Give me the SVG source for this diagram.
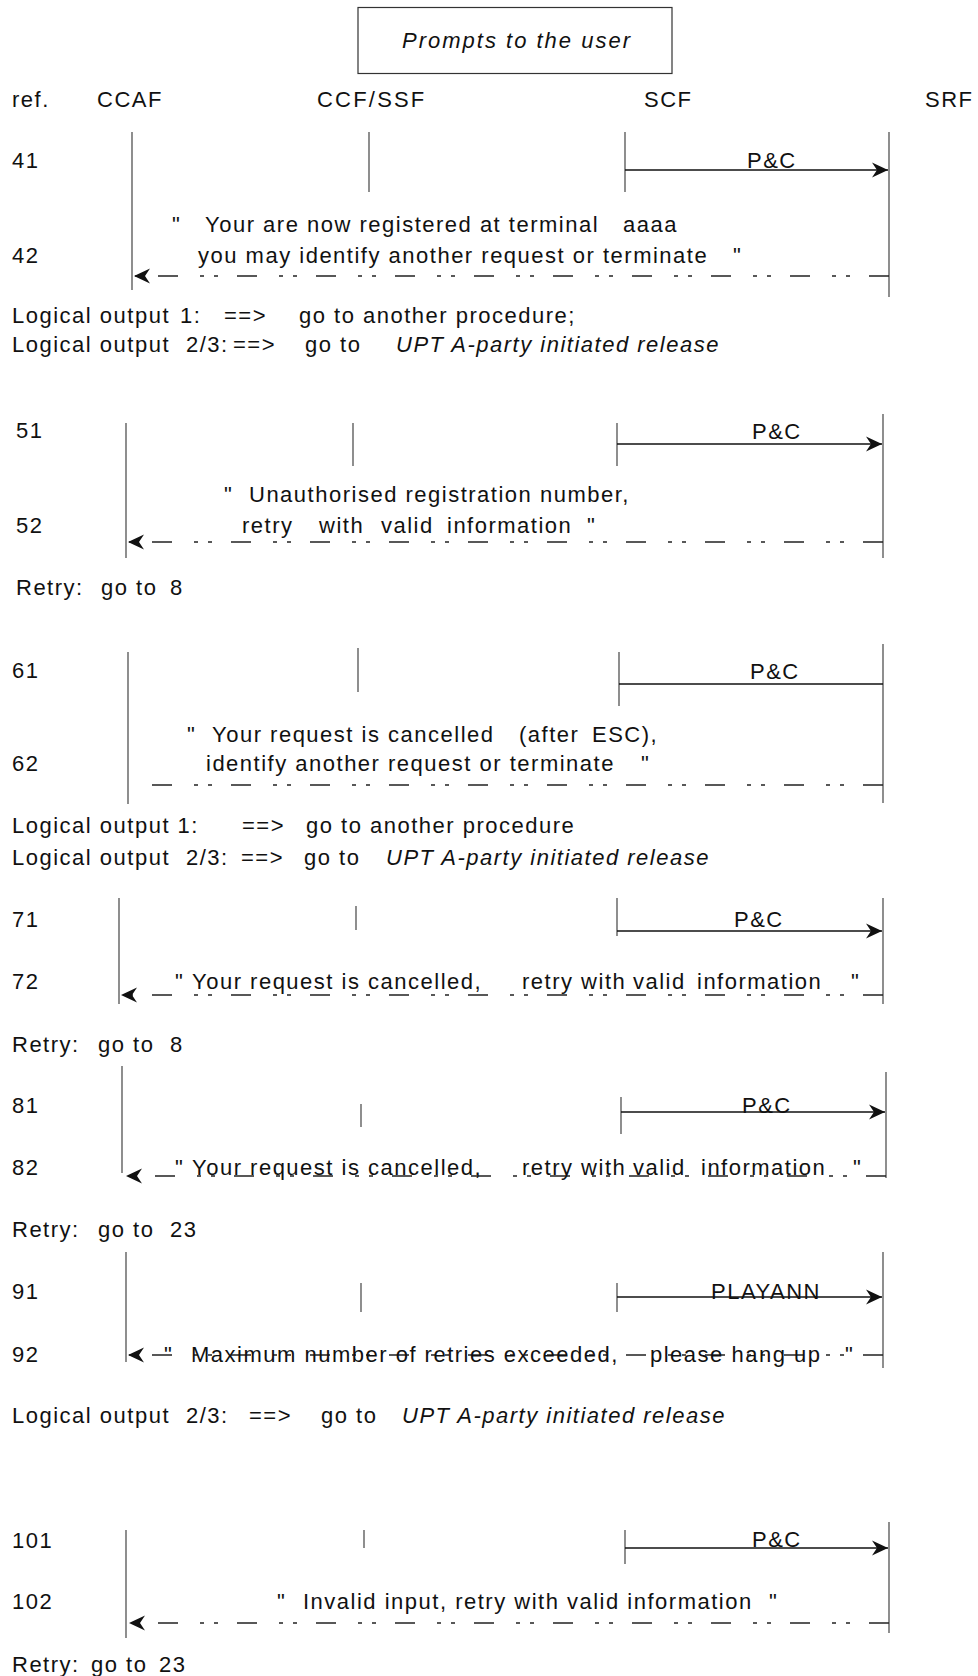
<svg xmlns="http://www.w3.org/2000/svg" width="978" height="1676" viewBox="0 0 978 1676">
<style>
text{font-family:"Liberation Sans",Arial,sans-serif;font-size:22px;fill:#111;letter-spacing:1.5px}
.it{font-style:italic}
.life{stroke:#444;stroke-width:1.2;fill:none}
.msg{stroke:#111;stroke-width:1.4;fill:none}
.dash{stroke:#222;stroke-width:1.4;fill:none;stroke-dasharray:20 19 4 10 4 22}
</style>
<defs>
<marker id="ah" viewBox="-17 -8 18 16" refX="0" refY="0" markerWidth="18" markerHeight="16" markerUnits="userSpaceOnUse" orient="auto">
<path d="M0,0 L-16,-7.5 L-11,0 L-16,7.5 Z" fill="#111"/>
</marker>
</defs>
<rect width="978" height="1676" fill="#fff"/>

<g id="title">
<rect x="358" y="7.5" width="314" height="66" fill="#fff" stroke="#333" stroke-width="1.2"/>
<text class="it" x="402" y="48" style="letter-spacing:2px">Prompts to the user</text>
</g>

<g id="columns">
<text x="12" y="107">ref.</text>
<text x="97" y="107">CCAF</text>
<text x="317" y="107" style="letter-spacing:2.2px">CCF/SSF</text>
<text x="644" y="107">SCF</text>
<text x="925" y="107">SRF</text>
</g>

<g id="lifelines">
<line class="life" x1="132" y1="132" x2="132" y2="290"/>
<line class="life" x1="369" y1="132" x2="369" y2="192"/>
<line class="life" x1="625" y1="132" x2="625" y2="192"/>
<line class="life" x1="889" y1="132" x2="889" y2="297"/>

<line class="life" x1="126" y1="423" x2="126" y2="558"/>
<line class="life" x1="353" y1="423" x2="353" y2="466"/>
<line class="life" x1="617" y1="423" x2="617" y2="466"/>
<line class="life" x1="883" y1="414" x2="883" y2="558"/>

<line class="life" x1="128" y1="652" x2="128" y2="804"/>
<line class="life" x1="358" y1="648" x2="358" y2="692"/>
<line class="life" x1="619" y1="652" x2="619" y2="706"/>
<line class="life" x1="883" y1="644" x2="883" y2="803"/>

<line class="life" x1="119" y1="898" x2="119" y2="1004"/>
<line class="life" x1="356" y1="906" x2="356" y2="930"/>
<line class="life" x1="617" y1="898" x2="617" y2="936"/>
<line class="life" x1="883" y1="898" x2="883" y2="1004"/>

<line class="life" x1="122" y1="1066" x2="122" y2="1173"/>
<line class="life" x1="361" y1="1104" x2="361" y2="1127"/>
<line class="life" x1="621" y1="1097" x2="621" y2="1134"/>
<line class="life" x1="886" y1="1072" x2="886" y2="1178"/>

<line class="life" x1="126" y1="1252" x2="126" y2="1362"/>
<line class="life" x1="361" y1="1283" x2="361" y2="1312"/>
<line class="life" x1="617" y1="1283" x2="617" y2="1312"/>
<line class="life" x1="883" y1="1252" x2="883" y2="1368"/>

<line class="life" x1="126" y1="1530" x2="126" y2="1638"/>
<line class="life" x1="364" y1="1530" x2="364" y2="1548"/>
<line class="life" x1="625" y1="1530" x2="625" y2="1564"/>
<line class="life" x1="889" y1="1522" x2="889" y2="1633"/>
</g>

<g id="connectors">
<line class="msg" x1="625" y1="170" x2="888" y2="170" marker-end="url(#ah)"/>
<line class="dash" x1="889" y1="276" x2="134" y2="276" marker-end="url(#ah)"/>

<line class="msg" x1="617" y1="444" x2="882" y2="444" marker-end="url(#ah)"/>
<line class="dash" x1="883" y1="542" x2="128" y2="542" marker-end="url(#ah)"/>

<line class="msg" x1="619" y1="684" x2="883" y2="684"/>
<line class="dash" x1="883" y1="785" x2="145" y2="785"/>

<line class="msg" x1="617" y1="931" x2="882" y2="931" marker-end="url(#ah)"/>
<line class="dash" x1="883" y1="995" x2="121" y2="995" marker-end="url(#ah)"/>

<line class="msg" x1="621" y1="1112" x2="885" y2="1112" marker-end="url(#ah)"/>
<line class="dash" x1="886" y1="1176" x2="126" y2="1176" marker-end="url(#ah)"/>

<line class="msg" x1="617" y1="1297" x2="882" y2="1297" marker-end="url(#ah)"/>
<line class="dash" x1="883" y1="1355" x2="128" y2="1355" marker-end="url(#ah)"/>

<line class="msg" x1="625" y1="1548" x2="888" y2="1548" marker-end="url(#ah)"/>
<line class="dash" x1="889" y1="1623" x2="129" y2="1623" marker-end="url(#ah)"/>
</g>

<g id="step4">
<text x="12" y="168">41</text>
<text x="747" y="168">P&amp;C</text>
<text y="232"><tspan x="172">"</tspan><tspan x="205">Your are now registered at terminal</tspan><tspan x="623">aaaa</tspan></text>
<text x="12" y="263">42</text>
<text y="263"><tspan x="198">you may identify another request or terminate</tspan><tspan x="733">"</tspan></text>
<text y="323"><tspan x="12">Logical output</tspan><tspan x="180">1:</tspan><tspan x="224">==&gt;</tspan><tspan x="299">go to another procedure;</tspan></text>
<text y="352"><tspan x="12">Logical output</tspan><tspan x="186">2/3:</tspan><tspan x="233">==&gt;</tspan><tspan x="305">go to</tspan><tspan x="396" class="it">UPT A-party initiated release</tspan></text>
</g>

<g id="step5">
<text x="16" y="438">51</text>
<text x="752" y="439">P&amp;C</text>
<text y="502"><tspan x="224">"</tspan><tspan x="249">Unauthorised registration number,</tspan></text>
<text x="16" y="533">52</text>
<text y="533"><tspan x="242">retry</tspan><tspan x="319">with</tspan><tspan x="381">valid</tspan><tspan x="447">information</tspan><tspan x="587">"</tspan></text>
<text y="595"><tspan x="16">Retry:</tspan><tspan x="101">go to</tspan><tspan x="170">8</tspan></text>
</g>

<g id="step6">
<text x="12" y="678">61</text>
<text x="750" y="679">P&amp;C</text>
<text y="742"><tspan x="187">"</tspan><tspan x="212">Your request is cancelled</tspan><tspan x="519">(after</tspan><tspan x="592">ESC),</tspan></text>
<text x="12" y="771">62</text>
<text y="771"><tspan x="206">identify another request or terminate</tspan><tspan x="641">"</tspan></text>
<text y="833"><tspan x="12">Logical output 1:</tspan><tspan x="242">==&gt;</tspan><tspan x="306">go to another procedure</tspan></text>
<text y="865"><tspan x="12">Logical output</tspan><tspan x="186">2/3:</tspan><tspan x="241">==&gt;</tspan><tspan x="304">go to</tspan><tspan x="386" class="it">UPT A-party initiated release</tspan></text>
</g>

<g id="step7">
<text x="12" y="927">71</text>
<text x="734" y="927">P&amp;C</text>
<text x="12" y="989">72</text>
<text y="989"><tspan x="175">"</tspan><tspan x="192">Your request is cancelled,</tspan><tspan x="522">retry with</tspan><tspan x="633">valid</tspan><tspan x="697">information</tspan><tspan x="851">"</tspan></text>
<text y="1052"><tspan x="12">Retry:</tspan><tspan x="98">go to</tspan><tspan x="170">8</tspan></text>
</g>

<g id="step8">
<text x="12" y="1113">81</text>
<text x="742" y="1113">P&amp;C</text>
<text x="12" y="1175">82</text>
<text y="1175"><tspan x="175">"</tspan><tspan x="192">Your request is cancelled,</tspan><tspan x="522">retry with</tspan><tspan x="633">valid</tspan><tspan x="701">information</tspan><tspan x="853">"</tspan></text>
<text y="1237"><tspan x="12">Retry:</tspan><tspan x="98">go to</tspan><tspan x="170">23</tspan></text>
</g>

<g id="step9">
<text x="12" y="1299">91</text>
<text x="711" y="1299">PLAYANN</text>
<text x="12" y="1362">92</text>
<text y="1362"><tspan x="164">"</tspan><tspan x="191">Maximum number of retries exceeded,</tspan><tspan x="650">please hang up</tspan><tspan x="845">"</tspan></text>
<text y="1423"><tspan x="12">Logical output</tspan><tspan x="186">2/3:</tspan><tspan x="249">==&gt;</tspan><tspan x="321">go to</tspan><tspan x="402" class="it">UPT A-party initiated release</tspan></text>
</g>

<g id="step10">
<text x="12" y="1548">101</text>
<text x="752" y="1547">P&amp;C</text>
<text x="12" y="1609">102</text>
<text y="1609"><tspan x="277">"</tspan><tspan x="303">Invalid input, retry with valid information</tspan><tspan x="769">"</tspan></text>
<text y="1672"><tspan x="12">Retry:</tspan><tspan x="91">go to</tspan><tspan x="159">23</tspan></text>
</g>
</svg>
